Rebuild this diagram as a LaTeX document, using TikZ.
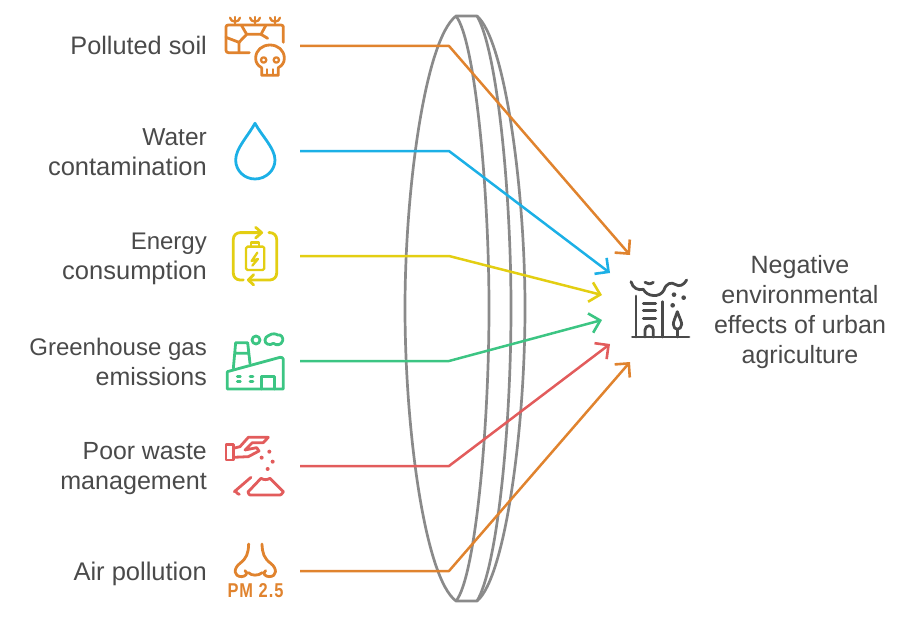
\documentclass[tikz,border=0pt]{standalone}
\usepackage{fontspec}
\setmainfont{Liberation Sans}
\usetikzlibrary{arrows.meta}
\definecolor{corange}{HTML}{E0832E}
\definecolor{cblue}{HTML}{1CB0E6}
\definecolor{cyellow}{HTML}{E3CE12}
\definecolor{cgreen}{HTML}{3CC583}
\definecolor{cred}{HTML}{E25C5C}
\definecolor{cgray}{HTML}{8A8A8A}
\definecolor{ctext}{HTML}{4A4A4A}
\newcommand{\lsq}{\rule[-5pt]{0pt}{22pt}}
\newcommand{\fsz}[1]{\fontsize{#1}{30}\selectfont}
\tikzset{
  lab/.style={text=ctext,font=\fontsize{25}{30}\selectfont,inner sep=0pt},
  leftlab/.style={lab,anchor=east,align=right},
  lens/.style={draw=cgray,line width=2.7pt},
  conn/.style={line width=2.5pt,line join=round,-{Straight Barb[length=10pt,width=20pt,line width=2.6pt]}},
  icon/.style={line width=2.8pt,line cap=round,line join=round},
  iconthin/.style={line width=2.3pt,line cap=round,line join=round}
}
\begin{document}
\begin{tikzpicture}[x=1pt,y=-1pt]
\useasboundingbox (0,0) rectangle (915,618);
% lens
\draw[lens,line join=round] (456,16) -- (477,16)
  .. controls (505,40) and (525,190) .. (525,308)
  .. controls (525,430) and (505,578) .. (477,601) -- (456,601)
  .. controls (425,578) and (405,430) .. (405,308)
  .. controls (405,190) and (425,40) .. (456,16) -- cycle;
\draw[lens] (456,16) .. controls (475,40) and (489,190) .. (489,308)
  .. controls (489,430) and (475,578) .. (456,601);
\draw[lens] (477,16) .. controls (497,50) and (511,190) .. (511,308)
  .. controls (511,430) and (497,568) .. (477,601);
% labels
\node[leftlab] (t1) at (207,48) {\lsq \fsz{25.3}Polluted soil};
\node[leftlab] (t2) at (207,154) {\lsq \fsz{24.5}Water\\\lsq \fsz{25.5}contamination};
\node[leftlab] (t3) at (207,259) {\lsq \fsz{24}Energy\\\lsq \fsz{25.5}consumption};
\node[leftlab] (t4) at (207,364) {\lsq \fsz{24}Greenhouse gas\\\lsq \fsz{25}emissions};
\node[leftlab] (t5) at (207,469) {\lsq \fsz{24.8}Poor waste\\\lsq \fsz{25.1}management};
\node[leftlab] (t6) at (207,574) {\lsq \fsz{25.5}Air pollution};
\node[lab,align=center] (res) at (800,312.5) {\lsq Negative\\\lsq environmental\\\lsq effects of urban\\\lsq agriculture};
% connector ends
\coordinate (s1) at (300,46);  \coordinate (b1) at (449,46);  \coordinate (e1) at (630,255);
\coordinate (s2) at (300,151); \coordinate (b2) at (449,151); \coordinate (e2) at (610,273);
\coordinate (s3) at (300,256); \coordinate (b3) at (449,256); \coordinate (e3) at (602,295);
\coordinate (s4) at (300,361); \coordinate (b4) at (449,361); \coordinate (e4) at (602,320);
\coordinate (s5) at (300,466); \coordinate (b5) at (449,466); \coordinate (e5) at (610,344);
\coordinate (s6) at (300,571); \coordinate (b6) at (449,571); \coordinate (e6) at (630,362);
\draw[conn,corange] (s1) -- (b1) -- (e1);
\draw[conn,cblue] (s2) -- (b2) -- (e2);
\draw[conn,cyellow] (s3) -- (b3) -- (e3);
\draw[conn,cgreen] (s4) -- (b4) -- (e4);
\draw[conn,cred] (s5) -- (b5) -- (e5);
\draw[conn,corange] (s6) -- (b6) -- (e6);
% icons top group (zoom coordinates, 3x)
\begin{scope}[shift={(215,5)},x=0.3333pt,y=-0.3333pt]
  % soil
  \draw[icon,corange] (205,112) -- (205,66) to[out=90,in=0] (198,60) -- (40,60) to[out=180,in=90] (33,66) -- (33,136) to[out=-90,in=180] (40,143) -- (103,143);
  \foreach \x in {60,120,180}{
    \draw[iconthin,corange] (\x,60) -- (\x,36);
    \draw[iconthin,corange] (\x-15,38) to[out=-80,in=180] (\x,50) to[out=0,in=-100] (\x+15,38);
  }
  \draw[icon,corange] (33,97) -- (72,112) -- (72,143);
  \draw[icon,corange] (72,112) -- (95,88) -- (80,62);
  \draw[icon,corange] (95,88) -- (138,88) -- (152,62);
  \draw[icon,corange] (138,88) -- (158,100);
  \draw[icon,corange] (140,188) -- (140,211) -- (190,211) -- (190,188)
     .. controls (202,182) and (208,172) .. (208,160)
     .. controls (208,135) and (188,120) .. (165,120)
     .. controls (142,120) and (122,135) .. (122,160)
     .. controls (122,172) and (128,182) .. (140,188);
  \draw[iconthin,corange] (156,193) -- (156,211) (174,193) -- (174,211);
  \draw[iconthin,corange] (146,165) circle[radius=8] (184,165) circle[radius=8];
  % drop
  \draw[icon,cblue] (120,355) .. controls (100,392) and (62,430) .. (62,465)
     .. controls (62,497) and (88,522) .. (120,522)
     .. controls (152,522) and (180,497) .. (180,465)
     .. controls (180,430) and (140,392) .. (120,355) -- cycle;
  % battery cycle
  \draw[icon,cyellow] (138,683) -- (75,683) to[out=180,in=90] (55,703) -- (55,805) to[out=-90,in=180] (75,825) -- (85,825);
  \draw[icon,cyellow] (162,683) -- (165,683) to[out=0,in=90] (185,703) -- (185,805) to[out=-90,in=0] (165,825) -- (102,825);
  \draw[icon,cyellow] (122,667) -- (140,683) -- (122,699);
  \draw[icon,cyellow] (116,809) -- (100,825) -- (116,840);
  \draw[iconthin,cyellow,rounded corners=1.5pt] (93,725) rectangle (148,795);
  \draw[iconthin,cyellow] (108,725) -- (108,713) -- (133,713) -- (133,725);
  \draw[iconthin,cyellow] (127,743) -- (110,768) -- (129,762) -- (112,782);
\end{scope}
% icons bottom group
\begin{scope}[shift={(215,320)},x=0.3333pt,y=-0.3333pt]
  % factory
  \draw[icon,cgreen] (37,155) -- (37,207) -- (205,207) -- (205,118) to[out=90,in=10] (195,112) -- (37,155);
  \draw[icon,cgreen] (55,145) -- (62,68) -- (98,68) -- (105,130) (60,100) -- (100,100);
  \draw[icon,cgreen] (140,207) -- (140,170) -- (178,170) -- (178,207);
  \draw[icon,cgreen] (67,170) -- (76,170) (67,185) -- (76,185) (105,170) -- (114,170) (105,185) -- (114,185);
  \draw[icon,cgreen] (123,60) circle[radius=12];
  \draw[icon,cgreen] (160,47) .. controls (172,38) and (185,42) .. (188,45)
     .. controls (200,42) and (205,55) .. (203,62)
     .. controls (200,75) and (185,78) .. (175,70)
     .. controls (165,78) and (148,72) .. (150,60)
     .. controls (150,53) and (155,50) .. (160,47) -- cycle;
  % hand
  \draw[icon,cred] (33,373) rectangle (55,420);
  \draw[icon,cred] (55,385) -- (75,380) -- (100,352) -- (160,352) -- (145,368) -- (112,368) -- (90,390) -- (125,383) -- (132,393) -- (100,410) -- (55,412);
  \fill[cred] (163,395) circle[radius=6] (140,413) circle[radius=6] (173,425) circle[radius=6] (158,447) circle[radius=6];
  \draw[icon,cred] (100,515) -- (138,475) to[out=-30,in=-150] (165,475) -- (205,515) to[out=60,in=0] (195,525) -- (105,525) to[out=180,in=120] (100,515) -- cycle;
  \draw[icon,cred] (108,472) -- (58,515) to[out=60,in=180] (73,523);
  % nose
  \draw[icon,corange] (101,672) .. controls (100,700) and (95,715) .. (75,730)
     .. controls (55,745) and (55,770) .. (80,770)
     .. controls (90,770) and (102,760) .. (90,752);
  \draw[icon,corange] (141,672) .. controls (142,700) and (147,715) .. (167,730)
     .. controls (187,745) and (187,770) .. (162,770)
     .. controls (152,770) and (140,760) .. (152,752);
  \draw[icon,corange] (100,758) .. controls (110,768) and (130,768) .. (142,758);
\end{scope}
\node[text=corange,font=\fontsize{20}{20}\selectfont\bfseries\addfontfeature{LetterSpace=6},xscale=0.82,inner sep=0pt] (pm) at (255.5,591) {PM 2.5};
% building
\begin{scope}[shift={(590,230)},x=0.3333pt,y=-0.3333pt]
  \draw[icon,ctext] (127,321) -- (297,321);
  \draw[icon,ctext] (138,198) -- (138,321) (217,215) -- (217,321);
  \draw[icon,ctext] (160,220) -- (197,220) (160,242) -- (197,242) (160,265) -- (197,265);
  \draw[icon,ctext] (165,321) -- (165,300) to[out=90,in=180] (178,287) to[out=0,in=90] (190,300) -- (190,321);
  \draw[icon,ctext] (262,245) .. controls (255,265) and (250,275) .. (250,283)
     .. controls (250,292) and (256,298) .. (262,298)
     .. controls (268,298) and (275,292) .. (275,283)
     .. controls (275,275) and (269,265) .. (262,245) -- cycle;
  \draw[icon,ctext] (262,298) -- (262,321);
  \fill[ctext] (252,194) circle[radius=7] (281,203) circle[radius=7] (248,226) circle[radius=7];
  \draw[icon,ctext] (123,155) .. controls (128,175) and (145,182) .. (160,178)
     .. controls (170,200) and (210,205) .. (222,180)
     .. controls (228,160) and (245,155) .. (255,163)
     .. controls (268,172) and (282,165) .. (290,150);
  \draw[icon,ctext] (165,157) .. controls (172,163) and (182,163) .. (190,157);
\end{scope}
\end{tikzpicture}
\end{document}
